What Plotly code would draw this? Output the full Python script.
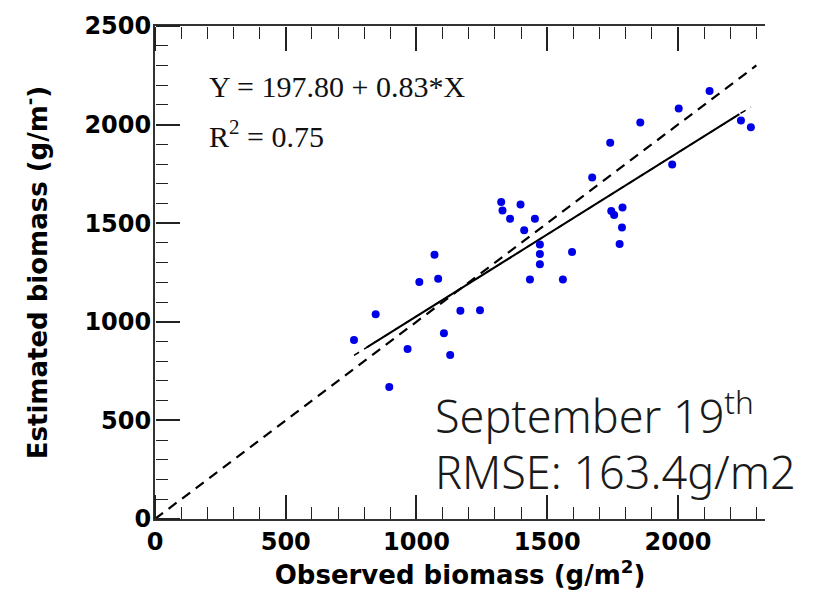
import plotly.graph_objects as go

# Observed vs estimated biomass (g/m2)
observed = [761, 844, 896, 966, 1011, 1069, 1083, 1105, 1129, 1168, 1243,
            1324, 1329, 1398, 1358, 1453, 1412, 1472, 1472, 1472, 1595, 1434,
            1560, 1672, 1741, 1856, 2003, 2121, 1978, 1745, 1756, 1788, 1786,
            1777, 2241, 2279]
estimated = [908, 1038, 670, 862, 1202, 1340, 1218, 942, 832, 1056, 1059,
             1608, 1564, 1595, 1522, 1522, 1464, 1392, 1344, 1292, 1354, 1214,
             1215, 1732, 1908, 2011, 2082, 2170, 1798, 1562, 1542, 1579, 1478,
             1394, 2021, 1986]

intercept = 197.80
slope = 0.83
fit_x_solid = [810, 2235]
fit_x_dash = [761, 2279]
one_to_one = [0, 2300]

x_range = [0, 2333]
y_range = [0, 2500]
major_step = 500
minor_step = 100

fig = go.Figure()

fig.add_trace(go.Scatter(
    x=one_to_one, y=one_to_one, mode="lines",
    line=dict(color="black", width=2.2, dash="10px,7px"),
    showlegend=False, hoverinfo="skip"))

fig.add_trace(go.Scatter(
    x=fit_x_dash, y=[intercept + slope * v for v in fit_x_dash], mode="lines",
    line=dict(color="black", width=1.5, dash="6px,6px"),
    showlegend=False, hoverinfo="skip"))

fig.add_trace(go.Scatter(
    x=fit_x_solid, y=[intercept + slope * v for v in fit_x_solid], mode="lines",
    line=dict(color="black", width=2),
    showlegend=False, hoverinfo="skip"))

fig.add_trace(go.Scatter(
    x=observed, y=estimated, mode="markers",
    marker=dict(color="#0000e6", size=8, line=dict(width=0)),
    showlegend=False))

# invisible traces that anchor the tick-only overlay axes
for xa, ya in [("x2", "y"), ("x3", "y"), ("x", "y2")]:
    fig.add_trace(go.Scatter(
        x=one_to_one, y=one_to_one, xaxis=xa, yaxis=ya, mode="lines",
        line=dict(width=0), opacity=0, showlegend=False, hoverinfo="skip"))

tick_font = dict(family="DejaVu Sans", size=24, color="black", weight="bold")
title_font = dict(family="DejaVu Sans", size=26, color="black", weight="bold")


def tick_axis(rng, side, position, overlay):
    return dict(
        overlaying=overlay, side=side, anchor="free", position=position,
        range=rng, tick0=0, dtick=major_step,
        ticks="outside", ticklen=24, tickwidth=1.5, tickcolor="#222",
        minor=dict(tick0=0, dtick=minor_step, ticks="outside", ticklen=12,
                   tickwidth=1.2, tickcolor="#222", showgrid=False),
        showticklabels=False, showline=False, showgrid=False, zeroline=False)


fig.update_layout(
    width=828, height=594,
    margin=dict(l=155, r=63, t=19, b=75),
    plot_bgcolor="white", paper_bgcolor="white",
    xaxis=dict(
        range=x_range, tick0=0, dtick=major_step, ticks="",
        showline=True, linecolor="#333", linewidth=2, mirror=True,
        showgrid=False, zeroline=False, tickfont=tick_font,
        ticklabelstandoff=0,
        title=dict(text="Observed biomass (g/m<sup>2</sup>)", font=title_font,
                   standoff=0)),
    yaxis=dict(
        range=y_range, tick0=0, dtick=major_step, ticks="",
        showline=True, linecolor="#333", linewidth=2, mirror=False,
        showgrid=False, zeroline=False, tickfont=tick_font,
        ticklabelstandoff=-3,
        title=dict(text="Estimated biomass (g/m<sup>-</sup>)", font=title_font,
                   standoff=29)),
    # bottom ticks pointing up into the plot
    xaxis2=tick_axis(x_range, "top", 0, "x"),
    # top ticks pointing down into the plot
    xaxis3=tick_axis(x_range, "bottom", 1, "x"),
    # left ticks pointing right into the plot
    yaxis2=tick_axis(y_range, "right", 0, "y"),
)

serif = dict(family="Liberation Serif", size=30, color="#111")
big = dict(family="Noto Sans", size=45, color="#1a1a1a", weight=300)

fig.add_annotation(xref="paper", yref="paper", x=0.086, y=0.878,
                   xanchor="left", yanchor="middle", showarrow=False,
                   text="Y = 197.80 + 0.83*X", font=serif)
fig.add_annotation(xref="paper", yref="paper", x=0.086, y=0.78,
                   xanchor="left", yanchor="middle", showarrow=False,
                   text="R<sup>2</sup> = 0.75", font=serif)
fig.add_annotation(xref="paper", yref="paper", x=0.455, y=0.214,
                   xanchor="left", yanchor="middle", showarrow=False,
                   text="September 19<sup>th</sup>", font=big)
fig.add_annotation(xref="paper", yref="paper", x=0.455, y=0.096,
                   xanchor="left", yanchor="middle", showarrow=False,
                   text="RMSE: 163.4g/m2", font=big)

fig.write_html("out.html")
